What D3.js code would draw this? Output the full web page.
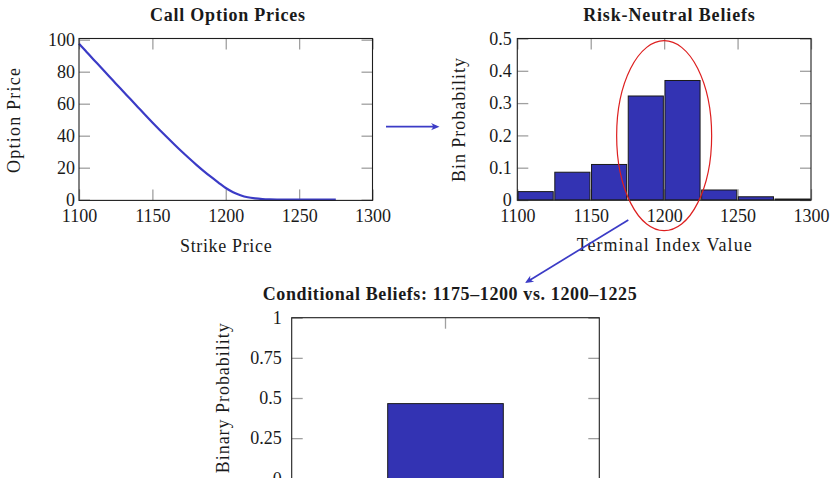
<!DOCTYPE html>
<html>
<head>
<meta charset="utf-8">
<script src="https://cdn.jsdelivr.net/npm/d3@7"></script>
<style>
  body { margin: 0; background: #fff; }
  svg text { font-family: "Liberation Serif", "Times New Roman", serif; fill: #1a1a1a; }
</style>
</head>
<body>
<svg id="fig" width="832" height="478"></svg>
<script>
// Call option prices by strike
const strikes = [1100, 1105, 1110, 1115, 1120, 1125, 1130, 1135, 1140, 1145, 1150, 1155,
                 1160, 1165, 1170, 1175, 1180, 1185, 1190, 1195, 1200, 1205, 1210, 1215,
                 1220, 1225, 1230, 1235, 1240, 1245, 1250, 1255, 1260, 1265, 1270, 1275];
const callPrices = [97.5, 92.5, 87.5, 82.6, 77.6, 72.7, 67.8, 62.9, 58.0, 53.1, 48.3, 43.6,
                    39.0, 34.5, 30.1, 25.9, 21.8, 17.9, 14.2, 10.7, 7.3, 4.7, 2.8, 1.5,
                    0.8, 0.4, 0.2, 0.1, 0.05, 0.02, 0.01, 0, 0, 0, 0, 0];
const priceTicks = [0, 20, 40, 60, 80, 100];
const strikeTicks = [1100, 1150, 1200, 1250, 1300];

// Risk-neutral probability of each terminal-value bin
const binEdges = [1100, 1125, 1150, 1175, 1200, 1225, 1250, 1275, 1300];
const binProbs = [0.026, 0.086, 0.110, 0.322, 0.370, 0.031, 0.010, 0.003];
const probTicks = [0, 0.1, 0.2, 0.3, 0.4, 0.5];
const indexTicks = [1100, 1150, 1200, 1250, 1300];

// Conditional (binary) belief
const condCategories = ["1175–1200 vs. 1200–1225"];
const condProbs = [0.465];
const condTicks = [0, 0.25, 0.5, 0.75, 1];
const condTickLabels = ["0", "0.25", "0.5", "0.75", "1"];

const svg = d3.select("#fig");
const BLUE_LINE = "#3b3bc6";
const BLUE_BAR = "#3333b3";
const TICK = 11;

function styleAxis(g, size) {
  g.select(".domain").remove();
  g.selectAll(".tick line").attr("stroke", "#a0a0a0").attr("stroke-width", 1.3);
  g.selectAll("text").attr("font-family", null).attr("font-size", size).attr("fill", "#1a1a1a");
  g.attr("font-family", null).attr("font-size", null);
}

// Draws the inward ticks on all four sides plus the numeric labels
function ticks(g, box, x, y, xt, yt, opts) {
  const fs = 18;
  if (xt) {
    g.append("g").attr("transform", `translate(0,${box.bottom})`)
      .call(d3.axisBottom(x).tickValues(xt).tickSizeInner(-TICK).tickSizeOuter(0)
        .tickPadding(opts.xPad).tickFormat(opts.xFmt || d3.format("d")))
      .call(a => styleAxis(a, fs));
  }
  g.append("g").attr("transform", `translate(0,${box.top})`)
    .call(d3.axisTop(x).tickValues(xt || x.domain()).tickSizeInner(-TICK).tickSizeOuter(0).tickFormat(""))
    .call(a => styleAxis(a, fs));
  g.append("g").attr("transform", `translate(${box.left},0)`)
    .call(d3.axisLeft(y).tickValues(yt).tickSizeInner(-TICK).tickSizeOuter(0)
      .tickPadding(opts.yPad).tickFormat(opts.yFmt))
    .call(a => styleAxis(a, fs));
  g.append("g").attr("transform", `translate(${box.right},0)`)
    .call(d3.axisRight(y).tickValues(yt).tickSizeInner(-TICK).tickSizeOuter(0).tickFormat(""))
    .call(a => styleAxis(a, fs));
}

function frame(g, box) {
  g.append("rect")
    .attr("x", box.left).attr("y", box.top)
    .attr("width", box.right - box.left).attr("height", box.bottom - box.top)
    .attr("fill", "none").attr("stroke", "#1e1e1e").attr("stroke-width", 1.1);
}

function label(g, text, x, y, opts) {
  const t = g.append("text")
    .attr("x", 0).attr("y", 0)
    .attr("transform", `translate(${x},${y})` + (opts.rotate ? " rotate(-90)" : ""))
    .attr("text-anchor", opts.anchor || "middle")
    .attr("font-size", opts.size || 18)
    .attr("font-weight", opts.bold ? "bold" : "normal")
    .text(text);
  if (opts.len) t.attr("textLength", opts.len).attr("lengthAdjust", "spacing");
  return t;
}

// ---------- Panel 1: call option prices ----------
{
  const box = { left: 79, right: 372.5, top: 38.5, bottom: 200.4 };
  const x = d3.scaleLinear().domain([1100, 1300]).range([box.left, box.right]);
  const y = d3.scaleLinear().domain([0, 100]).range([199.7, 39.7]);
  const g = svg.append("g");
  ticks(g, box, x, y, strikeTicks, priceTicks, { xPad: 8.5, yPad: 4, yFmt: d3.format("d") });

  const line = d3.line().x((d, i) => x(strikes[i])).y(d => y(d)).curve(d3.curveMonotoneX);
  g.append("path").datum(callPrices)
    .attr("d", line).attr("fill", "none")
    .attr("stroke", BLUE_LINE).attr("stroke-width", 2.2).attr("stroke-linejoin", "round");

  frame(g, box);
  label(g, "Call Option Prices", 227.5, 20.7, { bold: true, size: 18, len: 155 });
  label(g, "Strike Price", 225.8, 252, { len: 91.7 });
  label(g, "Option Price", 19.5, 120.5, { rotate: true, len: 105 });
}

// ---------- Panel 2: risk-neutral bin probabilities ----------
{
  const box = { left: 517.3, right: 811, top: 38.5, bottom: 200.2 };
  const x = d3.scaleLinear().domain([1100, 1300]).range([box.left, box.right]);
  const y = d3.scaleLinear().domain([0, 0.5]).range([200, 38.5]);
  const g = svg.append("g");
  ticks(g, box, x, y, indexTicks, probTicks, { xPad: 9, yPad: 5.6, yFmt: d => d === 0 ? "0" : d3.format(".1f")(d) });

  g.append("g").selectAll("rect").data(binProbs).join("rect")
    .attr("x", (d, i) => x(binEdges[i]) + 0.8)
    .attr("width", (d, i) => x(binEdges[i + 1]) - x(binEdges[i]) - 1.6)
    .attr("y", d => y(d))
    .attr("height", d => y(0) - y(d))
    .attr("fill", BLUE_BAR).attr("stroke", "#1a1a1a").attr("stroke-width", 1);

  frame(g, box);
  label(g, "Risk-Neutral Beliefs", 669, 20.7, { bold: true, size: 18, len: 171.7 });
  label(g, "Terminal Index Value", 664.2, 250.7, { len: 175 });
  label(g, "Bin Probability", 464.5, 120, { rotate: true, len: 124 });

  // highlight around the two central bins
  g.append("ellipse")
    .attr("cx", x(1200)).attr("cy", 135.7)
    .attr("rx", 47.5).attr("ry", 95)
    .attr("fill", "none").attr("stroke", "#dd1f1f").attr("stroke-width", 1.2);
}

// ---------- Panel 3: conditional binary probability ----------
{
  const box = { left: 291.7, right: 599.3, top: 317.7, bottom: 481 };
  const x = d3.scaleBand().domain(condCategories).range([box.left, box.right]).padding(0.4537);
  const y = d3.scaleLinear().domain([0, 1]).range([478.3, 317.7]);
  const g = svg.append("g");
  ticks(g, box, x, y, null, condTicks, { xPad: 8, yPad: 10, yFmt: (d, i) => condTickLabels[i] });

  g.append("g").selectAll("rect").data(condProbs).join("rect")
    .attr("x", (d, i) => x(condCategories[i]))
    .attr("width", x.bandwidth())
    .attr("y", d => y(d))
    .attr("height", d => y(0) - y(d) + 5)
    .attr("fill", BLUE_BAR).attr("stroke", "#1a1a1a").attr("stroke-width", 1);

  frame(g, box);
  label(g, "Conditional Beliefs: 1175–1200 vs. 1200–1225", 449.7, 300, { bold: true, size: 18, len: 374 });
  label(g, "Binary Probability", 229, 323.3, { rotate: true, anchor: "end", len: 150 });
}

// ---------- Connecting arrows ----------
function arrow(x1, y1, x2, y2) {
  const ang = Math.atan2(y2 - y1, x2 - x1);
  const L = 8.5, W = 3.6;
  const bx = x2 - L * Math.cos(ang), by = y2 - L * Math.sin(ang);
  svg.append("line")
    .attr("x1", x1).attr("y1", y1)
    .attr("x2", x2 - 4 * Math.cos(ang)).attr("y2", y2 - 4 * Math.sin(ang))
    .attr("stroke", BLUE_LINE).attr("stroke-width", 1.7);
  const nx = -Math.sin(ang), ny = Math.cos(ang);
  const p = d3.path();
  p.moveTo(x2, y2);
  p.lineTo(bx + W * nx, by + W * ny);
  p.quadraticCurveTo(x2 - 0.55 * L * Math.cos(ang), y2 - 0.55 * L * Math.sin(ang), bx - W * nx, by - W * ny);
  p.closePath();
  svg.append("path").attr("d", p.toString()).attr("fill", BLUE_LINE);
}
arrow(386, 126.7, 439.5, 126.7);
arrow(628.3, 220, 525, 283);
</script>
</body>
</html>
